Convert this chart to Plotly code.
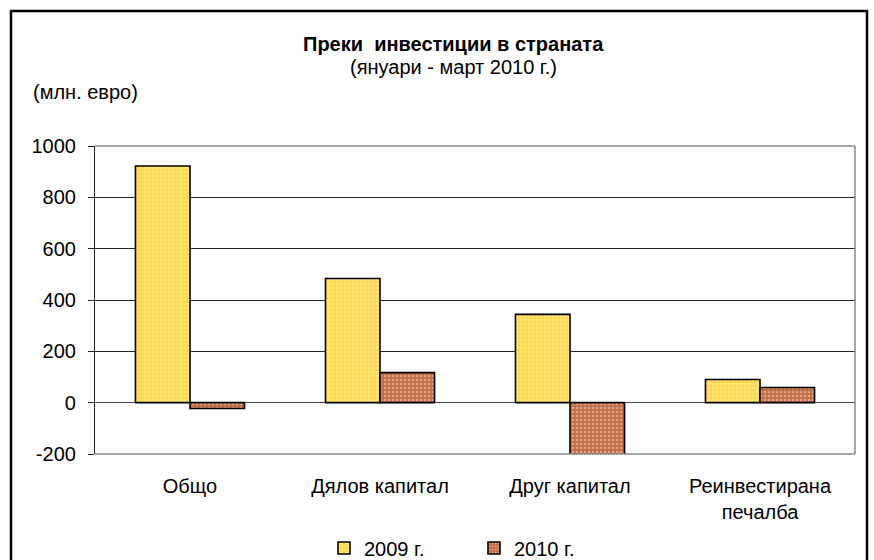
import plotly.graph_objects as go

categories = ["Общо", "Дялов капитал", "Друг капитал", "Реинвестирана<br>печалба"]
series_names = ["2009 г.", "2010 г."]
values_2009 = [922, 484, 344, 90]
values_2010 = [-23, 117, -208, 59]
y_ticks = [-200, 0, 200, 400, 600, 800, 1000]
y_tick_labels = [str(v) for v in y_ticks]

FONT = "Liberation Sans, Arial, sans-serif"
FS = 20
W, H = 874, 560
L, R, T, B = 95, 19, 146, 106
pw, ph = W - L - R, H - T - B

def px_x(x):
    return (x - L) / pw

def px_y(y):
    return (H - B - y) / ph

fig = go.Figure()
fig.add_trace(go.Bar(
    x=categories, y=values_2009, name=series_names[0],
    marker=dict(color="#FFD84E", line=dict(color="black", width=1.6),
                pattern=dict(shape=".", fgcolor="#FFF6C8", size=4, solidity=0.35)),
))
fig.add_trace(go.Bar(
    x=categories, y=values_2010, name=series_names[1],
    marker=dict(color="#C36D45", line=dict(color="black", width=1.6),
                pattern=dict(shape=".", fgcolor="#F2D9CA", size=4, solidity=0.35)),
))

fig.update_layout(
    width=W, height=H,
    margin=dict(l=L, r=R, t=T, b=B, autoexpand=False),
    paper_bgcolor="white", plot_bgcolor="white",
    font=dict(family=FONT, size=FS, color="black"),
    barmode="group", bargap=0.426, bargroupgap=0,
    showlegend=True,
    legend=dict(orientation="h", x=px_x(324), xanchor="left", y=px_y(548), yanchor="middle",
                font=dict(size=FS), entrywidth=105, itemwidth=30, bgcolor="rgba(0,0,0,0)"),
    xaxis=dict(showgrid=False, showline=False, ticks="", ticklabelstandoff=18,
               tickfont=dict(size=FS)),
    yaxis=dict(range=[-200, 1000], tickvals=y_ticks, ticktext=y_tick_labels,
               showgrid=True, gridcolor="#262626", gridwidth=1.2,
               zeroline=True, zerolinecolor="#444", zerolinewidth=1.2,
               showline=True, linecolor="#222", linewidth=1.2,
               ticks="outside", ticklen=6, tickcolor="#222", ticklabelstandoff=8,
               tickfont=dict(size=FS)),
    shapes=[
        dict(type="line", xref="paper", yref="paper", x0=0, x1=1, y0=1, y1=1,
             line=dict(color="#8a8a8a", width=1.5), layer="above"),
        dict(type="line", xref="paper", yref="paper", x0=1, x1=1, y0=0, y1=1,
             line=dict(color="#8a8a8a", width=1.5), layer="above"),
        dict(type="line", xref="paper", yref="paper", x0=0, x1=1, y0=0, y1=0,
             line=dict(color="#8a8a8a", width=1.5), layer="above"),
        dict(type="rect", xref="paper", yref="paper",
             x0=px_x(11), x1=px_x(867), y0=px_y(575), y1=px_y(11),
             line=dict(color="black", width=2.5), layer="above"),
    ],
    annotations=[
        dict(text="<b>Преки  инвестиции в страната</b>", xref="paper", yref="paper",
             x=px_x(453), y=px_y(44), xanchor="center", yanchor="middle",
             showarrow=False, font=dict(size=FS)),
        dict(text="(януари - март 2010 г.)", xref="paper", yref="paper",
             x=px_x(453), y=px_y(67), xanchor="center", yanchor="middle",
             showarrow=False, font=dict(size=FS)),
        dict(text="(млн. евро)", xref="paper", yref="paper",
             x=px_x(31), y=px_y(92), xanchor="left", yanchor="middle",
             showarrow=False, font=dict(size=FS)),
    ],
)

fig.write_html("out.html", config={"displayModeBar": False},
               post_script="document.body.style.margin='0';")
